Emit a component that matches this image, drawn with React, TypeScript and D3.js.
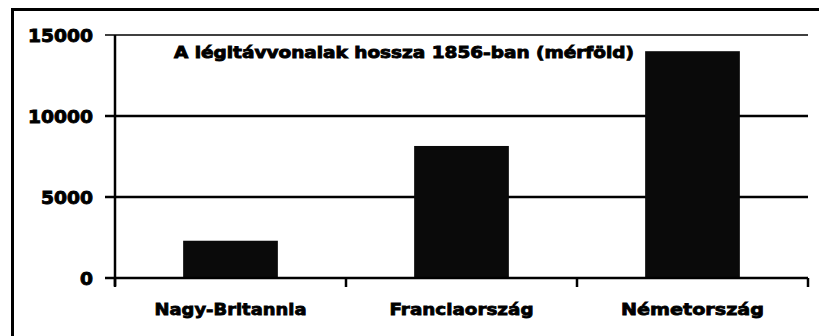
import React from "react";
import * as d3 from "d3";

const title = "A légitávvonalak hossza 1856-ban (mérföld)";
const categories = ["Nagy-Britannia", "Franciaország", "Németország"];
const values = [2300, 8150, 14000];
const yTicks = [0, 5000, 10000, 15000];

const W = 819;
const H = 336;
const margin = { left: 115, right: 11, top: 35, bottom: 58 };

export default function App() {
  const x = d3
    .scaleBand<string>()
    .domain(categories)
    .range([margin.left, W - margin.right])
    .paddingInner(0.59)
    .paddingOuter(0.295);
  const y = d3
    .scaleLinear()
    .domain([0, 15000])
    .range([H - margin.bottom, margin.top]);

  const x0 = margin.left;
  const x1 = W - margin.right;
  const bandStep = (x1 - x0) / categories.length;
  const font = "'DejaVu Sans', Verdana, sans-serif";

  return (
    <svg
      width={W}
      height={H}
      style={{ position: "absolute", left: 0, top: 0, background: "#fff" }}
    >
      <rect x={0} y={0} width={W} height={H} fill="#fff" />
      <rect x={12.5} y={9.5} width={W + 20} height={H + 20} fill="none" stroke="#000" strokeWidth={3} />
      {/* gridlines */}
      {yTicks.map((t) =>
        t === 0 ? null : (
          <line
            key={"g" + t}
            x1={x0 - 10}
            x2={x1}
            y1={y(t)}
            y2={y(t)}
            stroke="#000"
            strokeWidth={t === 15000 ? 1.5 : 2.5}
          />
        )
      )}
      {/* bars */}
      {categories.map((c, i) => (
        <rect
          key={c}
          x={x(c)}
          y={y(values[i])}
          width={x.bandwidth()}
          height={y(0) - y(values[i])}
          fill="#0a0a0a"
        />
      ))}
      {/* y axis */}
      <line x1={x0} x2={x0} y1={y(15000)} y2={y(0) + 8} stroke="#000" strokeWidth={2.5} />
      {/* x axis */}
      <line x1={x0 - 10} x2={x1} y1={y(0)} y2={y(0)} stroke="#000" strokeWidth={2.5} />
      {d3.range(categories.length + 1).map((i) => (
        <line
          key={"t" + i}
          x1={x0 + i * bandStep}
          x2={x0 + i * bandStep}
          y1={y(0)}
          y2={y(0) + 9}
          stroke="#000"
          strokeWidth={2.5}
        />
      ))}
      {/* y tick labels */}
      {yTicks.map((t) => (
        <text
          key={"l" + t}
          x={93}
          y={y(t) + 7}
          textAnchor="end"
          fontFamily={font}
          fontWeight="bold"
          fontSize={18}
          stroke="#000"
          strokeWidth={0.9}
          fill="#000"
          textLength={String(t).length * 13}
          lengthAdjust="spacingAndGlyphs"
        >
          {t}
        </text>
      ))}
      {/* category labels */}
      {categories.map((c, i) => (
        <text
          key={"c" + c}
          x={(x(c) as number) + x.bandwidth() / 2}
          y={315}
          textAnchor="middle"
          fontFamily={font}
          fontWeight="bold"
          fontSize={16}
          stroke="#000"
          strokeWidth={0.8}
          fill="#000"
          textLength={[152, 144, 143][i]}
          lengthAdjust="spacingAndGlyphs"
        >
          {c}
        </text>
      ))}
      {/* title */}
      <text
        x={174}
        y={58}
        fontFamily={font}
        fontWeight="bold"
        fontSize={16}
        stroke="#000"
        strokeWidth={0.9}
        fill="#000"
        textLength={460}
        lengthAdjust="spacingAndGlyphs"
      >
        {title}
      </text>
    </svg>
  );
}
